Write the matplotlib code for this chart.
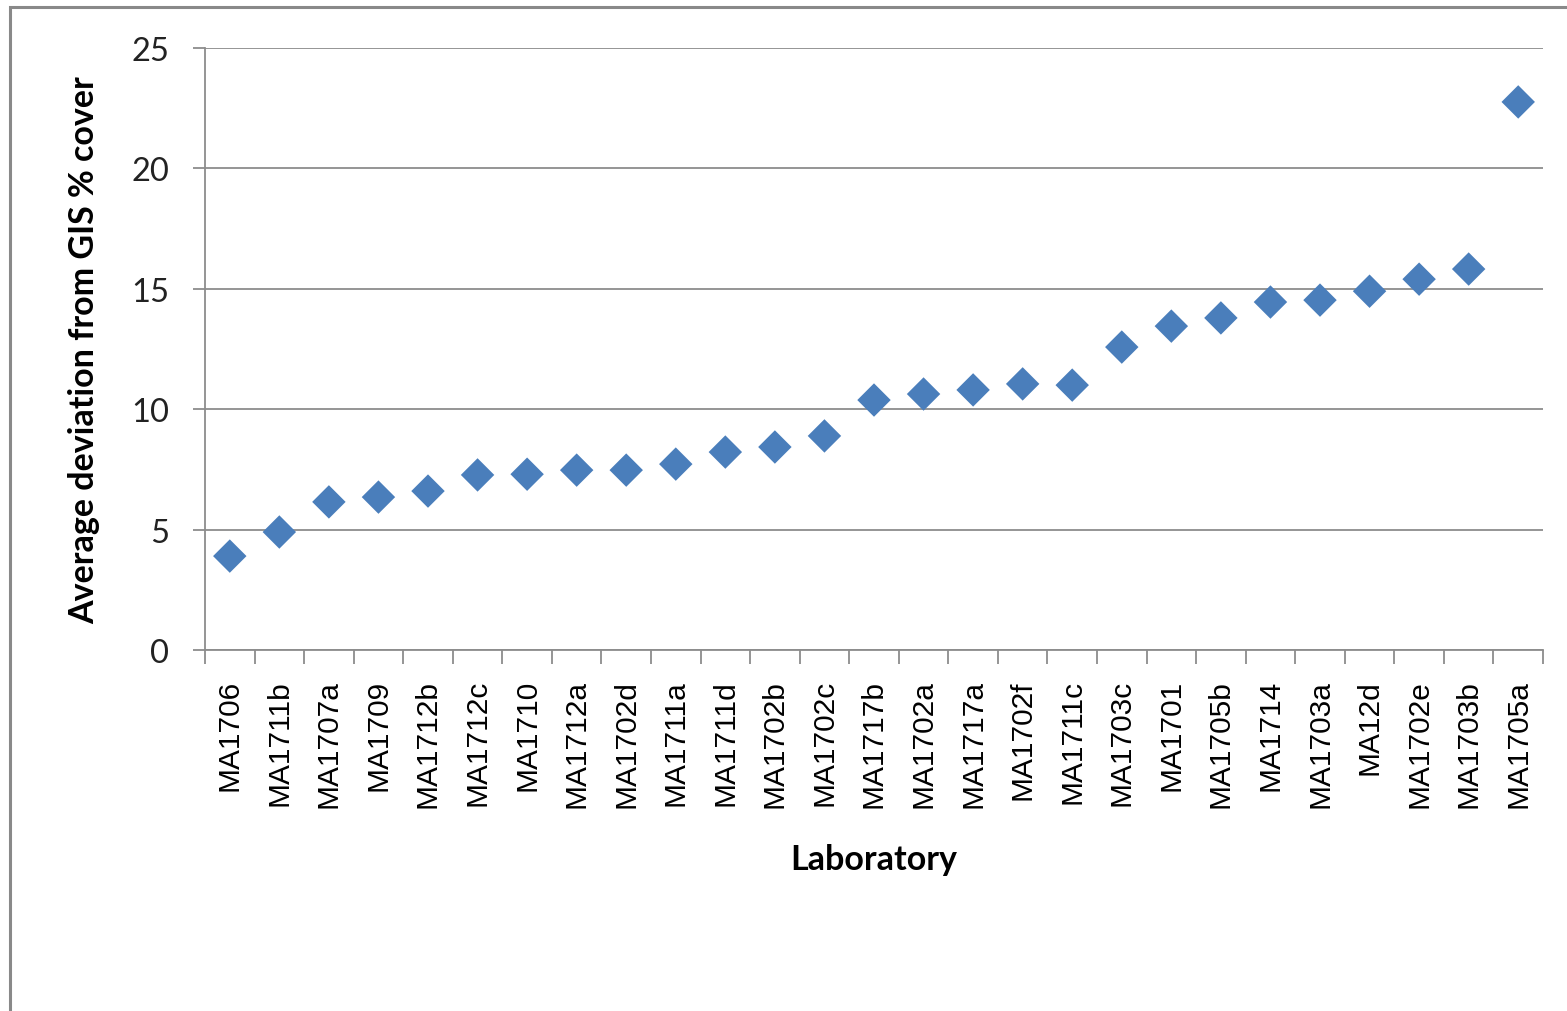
import matplotlib
matplotlib.use("Agg")
import matplotlib.pyplot as plt
from matplotlib.patches import Rectangle

labs = ["MA1706", "MA1711b", "MA1707a", "MA1709", "MA1712b", "MA1712c", "MA1710",
        "MA1712a", "MA1702d", "MA1711a", "MA1711d", "MA1702b", "MA1702c", "MA1717b",
        "MA1702a", "MA1717a", "MA1702f", "MA1711c", "MA1703c", "MA1701", "MA1705b",
        "MA1714", "MA1703a", "MA12d", "MA1702e", "MA1703b", "MA1705a"]
vals = [3.9, 4.9, 6.15, 6.35, 6.6, 7.27, 7.3, 7.47, 7.47, 7.72, 8.22, 8.43, 8.89,
        10.38, 10.63, 10.8, 11.05, 11.0, 12.58, 13.45, 13.79, 14.45, 14.53, 14.9,
        15.4, 15.82, 22.76]
yticks = [0, 5, 10, 15, 20, 25]

W, H = 1567, 1012
fig = plt.figure(figsize=(W / 100, H / 100), dpi=100)
fig.patches.append(Rectangle((10 / W, -0.05), 1.2, 1 - 8 / H + 0.05, transform=fig.transFigure,
                             fill=False, edgecolor="#898989", linewidth=2.2))

ax = fig.add_axes([205 / W, (H - 651) / H, 1338 / W, 602 / H])
n = len(labs)
xs = list(range(n))
ax.scatter(xs, vals, marker="D", s=290, color="#4a7ebb", edgecolors="none", zorder=3)
ax.set_xlim(-0.5, n - 0.5)
ax.set_ylim(0, 25)
ax.set_yticks(yticks)
ax.set_yticklabels([str(v) for v in yticks], fontsize=23.5, family="Lato", color="#222222")
ax.yaxis.grid(True, color="#8c8c8c", linewidth=1.3)
ax.set_axisbelow(True)
for s in ["top", "right"]:
    ax.spines[s].set_visible(False)
for s in ["left", "bottom"]:
    ax.spines[s].set_color("#8c8c8c")
    ax.spines[s].set_linewidth(1.3)
ax.tick_params(axis="y", length=9, width=1.3, color="#8c8c8c", pad=17)
ax.set_xticks([i - 0.5 for i in range(n + 1)])
ax.set_xticklabels([])
ax.tick_params(axis="x", length=10, width=1.3, color="#8c8c8c")
ax.set_xticks(xs, minor=True)
ax.set_xticklabels(labs, minor=True, rotation=90, fontsize=21.5, family="Liberation Sans", color="black")
ax.tick_params(axis="x", which="minor", length=0, pad=21)
ax.set_xlabel("Laboratory", fontsize=24.5, fontweight="bold", family="Lato", labelpad=26)
ax.set_ylabel("Average deviation from GIS % cover", fontsize=24.5, fontweight="bold", family="Lato", labelpad=22)

fig.savefig("out.png", dpi=100)
